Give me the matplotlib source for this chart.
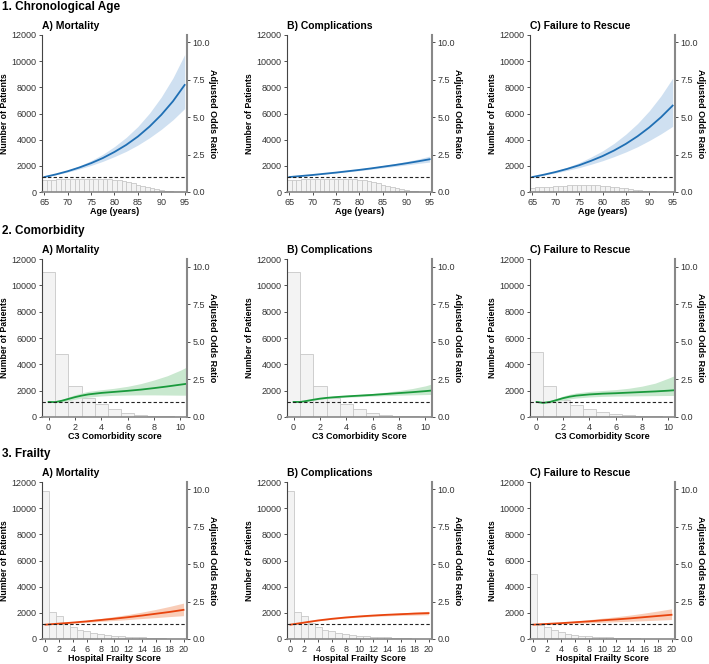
import numpy as np
import matplotlib
matplotlib.use("Agg")
import matplotlib.pyplot as plt

plt.rcParams["font.family"] = ["Liberation Sans", "DejaVu Sans"]

# ---- data -------------------------------------------------------------
age_bins = list(range(65, 96))
age_count_mort = [880, 920, 950, 970, 990, 1000, 1010, 1020, 1020, 1020, 1020,
                  1010, 1000, 990, 970, 940, 890, 820, 740, 650, 560, 460, 370,
                  280, 200, 140, 90, 50, 25, 12, 5]
age_count_comp = [880, 920, 950, 970, 990, 1000, 1010, 1020, 1020, 1020, 1020,
                  1010, 1000, 990, 970, 940, 890, 820, 740, 650, 560, 460, 370,
                  280, 200, 140, 90, 50, 25, 12, 5]
age_count_ftr = [330, 350, 370, 390, 410, 430, 460, 490, 510, 530, 540, 540,
                 530, 520, 500, 480, 450, 420, 380, 330, 280, 230, 180, 140,
                 100, 70, 45, 25, 12, 6, 3]

age_x = [65, 67.5, 70, 72.5, 75, 77.5, 80, 82.5, 85, 87.5, 90, 92.5, 95]
age_or_mort = [1.00, 1.18, 1.39, 1.64, 1.93, 2.27, 2.68, 3.15, 3.71, 4.38, 5.16, 6.07, 7.16]
age_lo_mort = [1.00, 1.16, 1.33, 1.54, 1.78, 2.05, 2.37, 2.72, 3.14, 3.63, 4.19, 4.83, 5.58]
age_hi_mort = [1.00, 1.20, 1.45, 1.75, 2.10, 2.52, 3.04, 3.65, 4.38, 5.28, 6.35, 7.63, 9.19]
age_or_comp = [1.00, 1.07, 1.14, 1.22, 1.30, 1.39, 1.48, 1.58, 1.69, 1.80, 1.92, 2.05, 2.19]
age_lo_comp = [1.00, 1.06, 1.12, 1.20, 1.27, 1.35, 1.43, 1.52, 1.62, 1.71, 1.81, 1.91, 2.00]
age_hi_comp = [1.00, 1.08, 1.16, 1.24, 1.33, 1.43, 1.53, 1.64, 1.77, 1.90, 2.04, 2.20, 2.40]
age_or_ftr = [1.00, 1.16, 1.34, 1.55, 1.79, 2.08, 2.40, 2.78, 3.22, 3.73, 4.32, 5.00, 5.78]
age_lo_ftr = [1.00, 1.13, 1.28, 1.45, 1.63, 1.85, 2.09, 2.37, 2.68, 3.03, 3.44, 3.89, 4.39]
age_hi_ftr = [1.00, 1.19, 1.40, 1.66, 1.96, 2.33, 2.75, 3.26, 3.87, 4.58, 5.43, 6.43, 7.61]

c3_bins = list(range(0, 11))
c3_count_mort = [11000, 4750, 2370, 1450, 1020, 585, 330, 180, 100, 50, 25]
c3_count_comp = [11000, 4750, 2370, 1450, 1020, 585, 330, 180, 100, 50, 25]
c3_count_ftr = [4960, 2340, 1300, 890, 610, 400, 250, 150, 80, 40, 20]

c3_x = [0, 0.5, 1, 1.5, 2, 2.5, 3, 4, 5, 6, 7, 8, 9, 10, 10.5]
c3_or_mort = [1.00, 0.99, 1.08, 1.20, 1.32, 1.42, 1.50, 1.60, 1.67, 1.74, 1.82, 1.92, 2.03, 2.15, 2.21]
c3_lo_mort = [1.00, 0.95, 1.00, 1.08, 1.18, 1.26, 1.32, 1.40, 1.44, 1.46, 1.47, 1.47, 1.46, 1.45, 1.45]
c3_hi_mort = [1.00, 1.03, 1.16, 1.33, 1.48, 1.60, 1.70, 1.81, 1.91, 2.04, 2.22, 2.46, 2.74, 3.11, 3.33]
c3_or_comp = [1.00, 1.00, 1.07, 1.15, 1.22, 1.27, 1.31, 1.37, 1.42, 1.47, 1.53, 1.59, 1.65, 1.72, 1.76]
c3_lo_comp = [1.00, 0.98, 1.04, 1.11, 1.17, 1.22, 1.26, 1.31, 1.35, 1.39, 1.42, 1.45, 1.47, 1.49, 1.50]
c3_hi_comp = [1.00, 1.02, 1.10, 1.19, 1.27, 1.32, 1.36, 1.43, 1.50, 1.56, 1.65, 1.76, 1.89, 2.07, 2.20]
c3_or_ftr = [1.00, 0.94, 1.00, 1.12, 1.25, 1.35, 1.42, 1.50, 1.55, 1.58, 1.62, 1.66, 1.70, 1.75, 1.78]
c3_lo_ftr = [1.00, 0.90, 0.93, 1.02, 1.12, 1.20, 1.26, 1.33, 1.37, 1.39, 1.40, 1.41, 1.42, 1.43, 1.43]
c3_hi_ftr = [1.00, 0.98, 1.08, 1.23, 1.39, 1.51, 1.60, 1.70, 1.76, 1.82, 1.91, 2.05, 2.25, 2.58, 2.76]

hfs_bins = list(range(0, 21))
hfs_count_mort = [11290, 2100, 1730, 1250, 890, 710, 580, 460, 380, 300, 250,
                  200, 170, 150, 120, 80, 60, 40, 30, 20, 15]
hfs_count_comp = [11290, 2100, 1730, 1250, 890, 710, 580, 460, 380, 300, 250,
                  200, 170, 150, 120, 80, 60, 40, 30, 20, 15]
hfs_count_ftr = [4950, 1100, 890, 660, 500, 360, 300, 250, 200, 180, 150,
                 120, 100, 80, 60, 50, 30, 20, 15, 10, 8]

hfs_x = [0, 2, 4, 6, 8, 10, 12, 14, 16, 18, 20]
hfs_or_mort = [0.96, 1.03, 1.10, 1.18, 1.27, 1.36, 1.46, 1.57, 1.69, 1.81, 1.95]
hfs_lo_mort = [0.95, 1.01, 1.06, 1.12, 1.18, 1.24, 1.30, 1.37, 1.43, 1.50, 1.56]
hfs_hi_mort = [0.97, 1.05, 1.14, 1.25, 1.37, 1.50, 1.64, 1.80, 1.98, 2.18, 2.40]
hfs_or_comp = [0.96, 1.10, 1.24, 1.35, 1.44, 1.51, 1.57, 1.62, 1.66, 1.70, 1.73]
hfs_lo_comp = [0.95, 1.08, 1.21, 1.32, 1.40, 1.46, 1.51, 1.55, 1.58, 1.60, 1.62]
hfs_hi_comp = [0.97, 1.12, 1.27, 1.38, 1.48, 1.56, 1.63, 1.69, 1.74, 1.80, 1.85]
hfs_or_ftr = [0.96, 1.01, 1.06, 1.12, 1.18, 1.25, 1.31, 1.38, 1.46, 1.54, 1.62]
hfs_lo_ftr = [0.95, 0.99, 1.02, 1.05, 1.08, 1.12, 1.15, 1.19, 1.22, 1.26, 1.30]
hfs_hi_ftr = [0.97, 1.03, 1.10, 1.19, 1.29, 1.39, 1.49, 1.60, 1.73, 1.87, 2.02]

row_titles = ["1. Chronological Age", "2. Comorbidity", "3. Frailty"]
panel_titles = ["A) Mortality", "B) Complications", "C) Failure to Rescue"]

# ---- layout -----------------------------------------------------------
W, H = 709, 664
col_px = [42, 287, 530]
row_px = [(35, 192), (259, 417), (482, 639)]
ax_w = 145

rows = [
    dict(bins=age_bins, xlim=(64.5, 95.5), xticks=range(65, 96, 5),
         xlabels=["Age (years)"] * 3, color="#1f6fb4", band="#cfe0f1",
         counts=[age_count_mort, age_count_comp, age_count_ftr],
         x=age_x,
         curves=[(age_or_mort, age_lo_mort, age_hi_mort),
                 (age_or_comp, age_lo_comp, age_hi_comp),
                 (age_or_ftr, age_lo_ftr, age_hi_ftr)]),
    dict(bins=c3_bins, xlim=(-0.5, 10.5), xticks=range(0, 11, 2),
         xlabels=["C3 Comorbidity score", "C3 Comorbidity Score", "C3 Comorbidity Score"],
         color="#1a9a3c", band="#c9e8cf",
         counts=[c3_count_mort, c3_count_comp, c3_count_ftr],
         x=c3_x,
         curves=[(c3_or_mort, c3_lo_mort, c3_hi_mort),
                 (c3_or_comp, c3_lo_comp, c3_hi_comp),
                 (c3_or_ftr, c3_lo_ftr, c3_hi_ftr)]),
    dict(bins=hfs_bins, xlim=(-0.5, 20.5), xticks=range(0, 21, 2),
         xlabels=["Hospital Frailty Score"] * 3, color="#e8440e", band="#f9cdb8",
         counts=[hfs_count_mort, hfs_count_comp, hfs_count_ftr],
         x=hfs_x,
         curves=[(hfs_or_mort, hfs_lo_mort, hfs_hi_mort),
                 (hfs_or_comp, hfs_lo_comp, hfs_hi_comp),
                 (hfs_or_ftr, hfs_lo_ftr, hfs_hi_ftr)]),
]

fig = plt.figure(figsize=(W / 100, H / 100), dpi=100)

for r, spec in enumerate(rows):
    top, bot = row_px[r]
    fig.text(2 / W, 1 - (top - 28) / H, row_titles[r], fontsize=8.5,
             fontweight="bold", ha="left", va="center")
    for c in range(3):
        ax = fig.add_axes([col_px[c] / W, 1 - bot / H, ax_w / W, (bot - top) / H])
        ax.bar(spec["bins"], spec["counts"][c], width=1.0, color="#f3f3f3",
               edgecolor="#c8c8c8", linewidth=0.6)
        ax.set_xlim(*spec["xlim"])
        ax.set_ylim(0, 12000)
        ax.set_yticks(range(0, 12001, 2000))
        ax.set_xticks(list(spec["xticks"]))
        ax.set_ylabel("Number of Patients", fontsize=6.3, fontweight="bold", labelpad=2)
        ax.set_xlabel(spec["xlabels"][c], fontsize=6.5, fontweight="bold", labelpad=0.5)
        ax.set_title(panel_titles[c], loc="left", fontsize=7.5,
                     fontweight="bold", pad=4)
        ax.tick_params(labelsize=6.5, length=2.5, width=0.6, pad=1.5,
                       colors="#333333")
        for s in ("top", "right"):
            ax.spines[s].set_visible(False)
        ax.spines["left"].set_color("#444444")
        ax.spines["left"].set_linewidth(0.8)
        ax.spines["bottom"].set_color("#888888")
        ax.spines["bottom"].set_linewidth(1.2)

        ax2 = ax.twinx()
        est, lo, hi = spec["curves"][c]
        ax2.fill_between(spec["x"], lo, hi, color=spec["band"], linewidth=0)
        ax2.plot(spec["x"], est, color=spec["color"], lw=1.3)
        ax2.axhline(1.0, color="#222222", lw=0.8, ls=(0, (3, 2)))
        ax2.set_ylim(0, 10.5)
        ax2.set_yticks([0, 2.5, 5.0, 7.5, 10.0])
        ax2.set_yticklabels(["0.0", "2.5", "5.0", "7.5", "10.0"])
        ax2.set_ylabel("Adjusted Odds Ratio", fontsize=6.5, fontweight="bold",
                       rotation=270, labelpad=5)
        ax2.tick_params(labelsize=6.5, length=2.5, width=0.6, pad=1.5,
                        colors="#333333")
        for s in ("top", "left", "bottom"):
            ax2.spines[s].set_visible(False)
        ax2.spines["right"].set_color("#888888")
        ax2.spines["right"].set_linewidth(1.5)

fig.savefig("out.png", dpi=100)
